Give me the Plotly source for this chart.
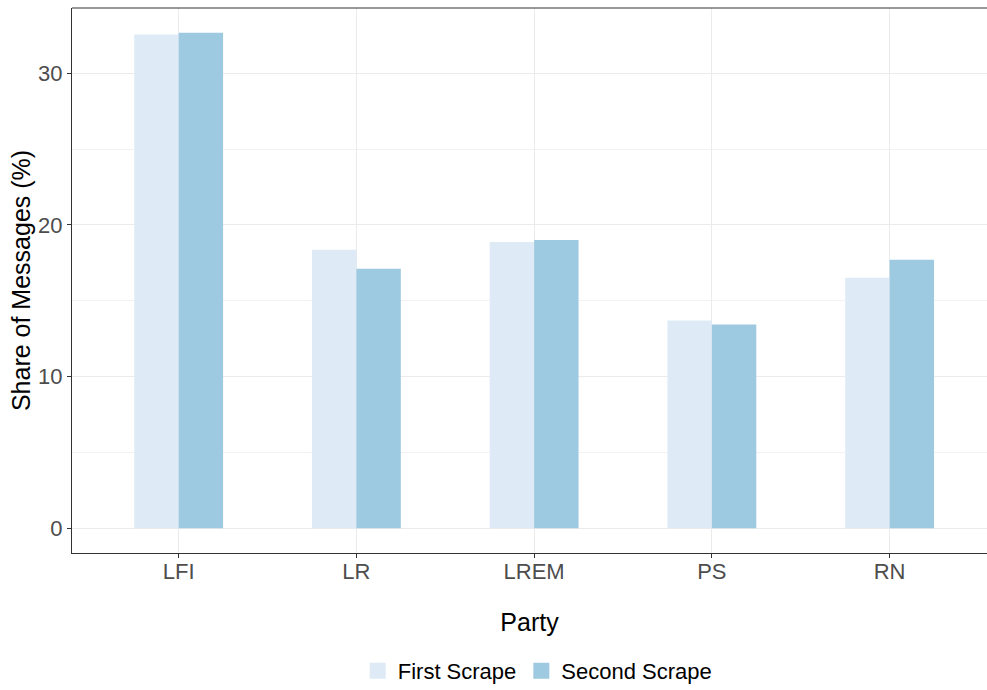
import plotly.graph_objects as go

parties = ["LFI", "LR", "LREM", "PS", "RN"]
first_scrape = [32.55, 18.36, 18.88, 13.69, 16.51]
second_scrape = [32.67, 17.11, 19.01, 13.43, 17.70]
series_names = ["First Scrape", "Second Scrape"]
colors = ["#deebf7", "#9ecae1"]
y_ticks = [0, 10, 20, 30]

FONT = "Liberation Sans, Arial, sans-serif"

fig = go.Figure()
for name, vals, col in zip(series_names, [first_scrape, second_scrape], colors):
    fig.add_trace(go.Bar(x=parties, y=vals, name=name, marker=dict(color=col, line=dict(width=0)),
                         showlegend=False, legendgroup=name))
for name, col in zip(series_names, colors):
    fig.add_trace(go.Scatter(x=[None], y=[None], mode="markers", name=name, legendgroup=name,
                             marker=dict(symbol="square", size=22, color=col)))

fig.update_layout(
    width=987, height=690,
    margin=dict(l=72, r=0, t=8, b=137, autoexpand=False),
    paper_bgcolor="white", plot_bgcolor="white",
    barmode="group", bargap=0.5, bargroupgap=0,
    font=dict(family=FONT, color="black"),
    legend=dict(orientation="h", x=0.509, xanchor="center", y=-0.2165, yanchor="middle",
                font=dict(size=22, color="black"), itemsizing="trace"),
    shapes=[dict(type="line", xref="paper", yref="paper", x0=0, x1=1, y0=1, y1=1,
                 line=dict(color="#333333", width=1.1))],
)
fig.update_xaxes(
    type="category", range=[-0.6, 4.548], automargin=False,
    showline=True, linecolor="#333333", linewidth=1.1,
    ticks="outside", ticklen=4, tickcolor="#333333", ticklabelstandoff=-5,
    tickfont=dict(size=22, color="#4d4d4d"),
    showgrid=True, gridcolor="#ebebeb", gridwidth=1,
    title=dict(text="Party", font=dict(size=25, color="black"), standoff=30),
    zeroline=False,
)
fig.update_yaxes(
    range=[-1.63, 34.3], tickvals=y_ticks, automargin=False,
    showline=True, linecolor="#333333", linewidth=1.1,
    ticks="outside", ticklen=4, tickcolor="#333333",
    tickfont=dict(size=22, color="#4d4d4d"),
    showgrid=True, gridcolor="#ebebeb", gridwidth=1,
    minor=dict(tickvals=[5, 15, 25], showgrid=True, gridcolor="#f2f2f2", gridwidth=1),
    title=dict(text="Share of Messages (%)", font=dict(size=25, color="black"), standoff=0),
    zeroline=False,
)

fig.write_html(
    "out.html",
    config={"displayModeBar": False},
    post_script="document.body.style.margin='0';document.body.style.overflow='hidden';",
)
